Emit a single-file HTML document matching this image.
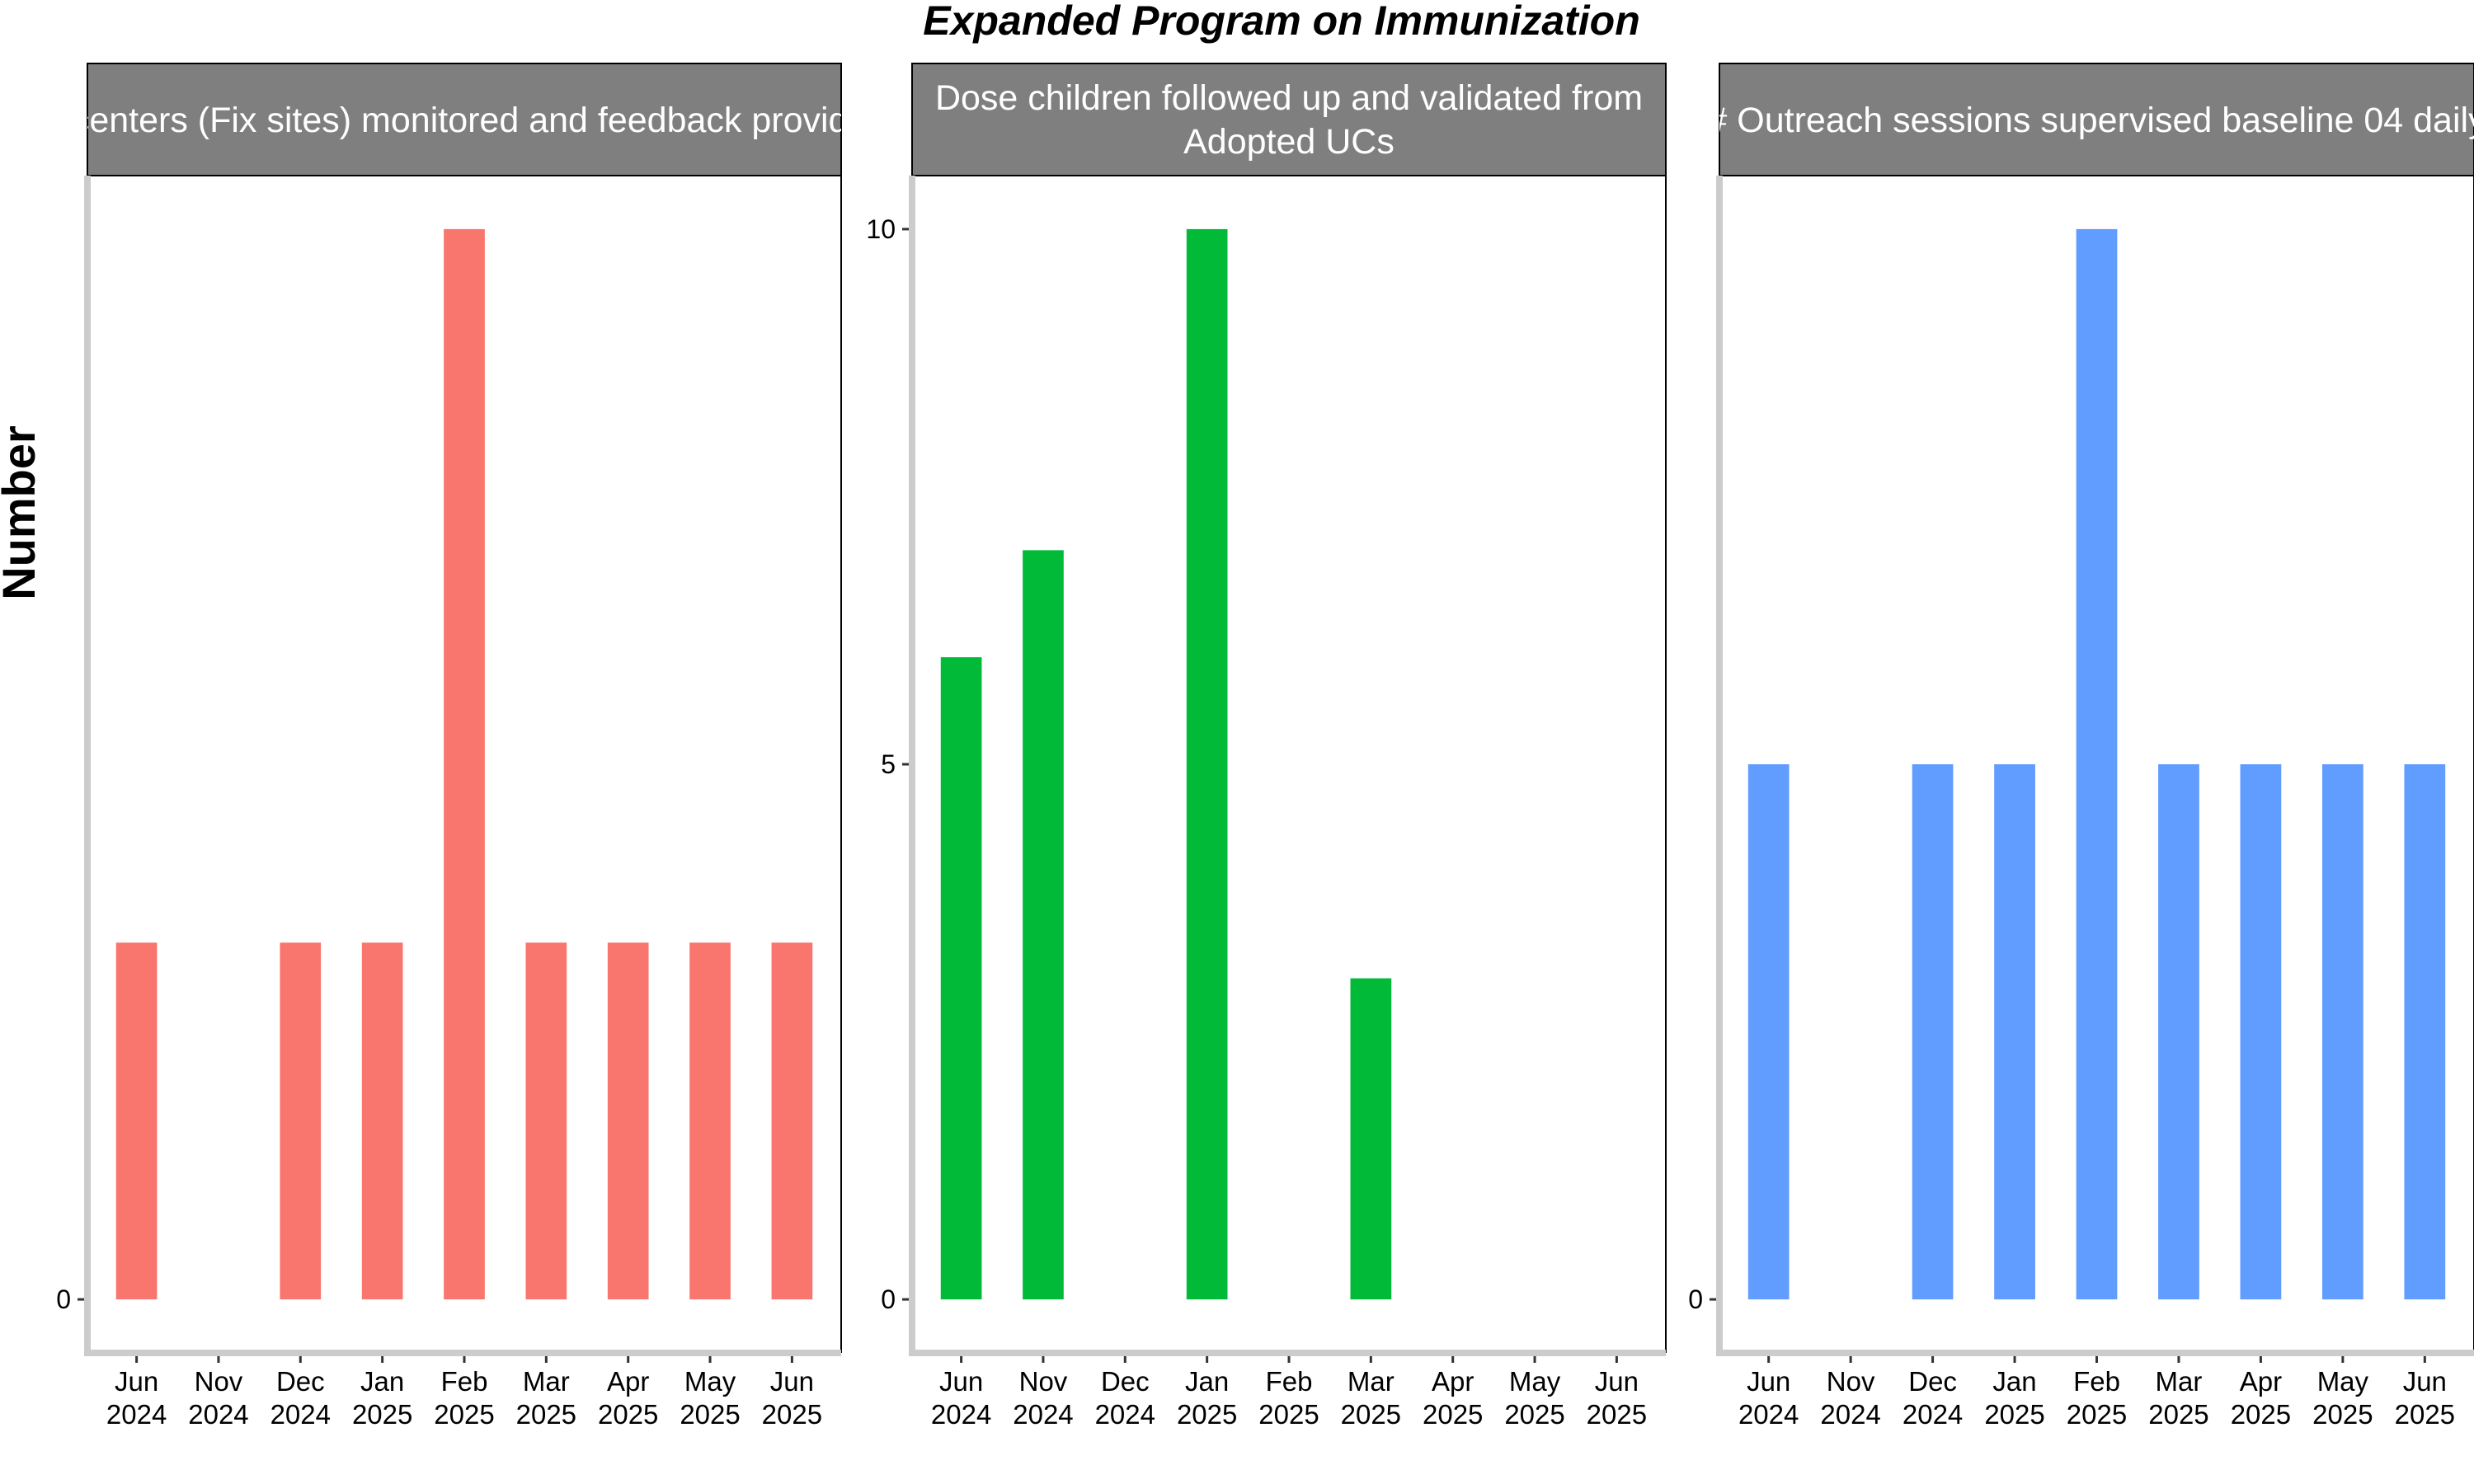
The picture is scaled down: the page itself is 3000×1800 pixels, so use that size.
<!DOCTYPE html>
<html><head><meta charset="utf-8"><title>Expanded Program on Immunization</title>
<style>
html,body{margin:0;padding:0;background:#fff;}
svg{display:block;font-family:"Liberation Sans",Arial,sans-serif;}
</style></head>
<body>
<svg id="chart" width="3000" height="1800" viewBox="0 0 3000 1800" xmlns="http://www.w3.org/2000/svg">
<text x="1554" y="42" text-anchor="middle" font-size="50" font-weight="bold" font-style="italic" fill="#000">Expanded Program on Immunization</text>
<text transform="translate(42,622) rotate(-90)" text-anchor="middle" font-size="56" font-weight="bold" fill="#000">Number</text>
<g id="panels"></g>
</svg>
<script>
const categories = ["Jun\n2024","Nov\n2024","Dec\n2024","Jan\n2025","Feb\n2025","Mar\n2025","Apr\n2025","May\n2025","Jun\n2025"];
const seriesEpiCenters = [1,0,1,1,3,1,1,1,1];
const seriesDoseChildren = [6,7,0,10,0,3,0,0,0];
const seriesOutreach = [5,0,5,5,10,5,5,5,5];
const ticksEpiCenters = [0];
const ticksDoseChildren = [0,5,10];
const ticksOutreach = [0];
const stripTitles = [
  ["# EPI centers (Fix sites) monitored and feedback provided"],
  ["Dose children followed up and validated from","Adopted UCs"],
  ["# Outreach sessions supervised baseline 04 daily"]
];

const NS = "http://www.w3.org/2000/svg";
const root = document.getElementById("panels");
const panels = [
  {left:106, right:1020, values:seriesEpiCenters, ticks:ticksEpiCenters, color:"#F8766D", name:"epi-centers", textOffset:-40},
  {left:1106, right:2020, values:seriesDoseChildren, ticks:ticksDoseChildren, color:"#00BA38", name:"dose-children", textOffset:0},
  {left:2085, right:3000, values:seriesOutreach, ticks:ticksOutreach, color:"#619CFF", name:"outreach-sessions", textOffset:0}
];
const plotTop = 213, plotBottom = 1641, stripTop = 77;

function mk(tag, attrs, parent){
  const e = document.createElementNS(NS, tag);
  for (const k in attrs) e.setAttribute(k, attrs[k]);
  parent.appendChild(e);
  return e;
}

panels.forEach((p, pi) => {
  const g = mk("g", {}, root);
  
  
  const w = p.right - p.left;
  const step = w / (categories.length - 1 + 1.2);
  const xc = i => p.left + step * 0.6 + i * step;
  const maxV = Math.max(...p.values);
  const yS = v => plotBottom - (v + 0.05 * maxV) / (1.1 * maxV) * (plotBottom - plotTop);

  // clip for strip text
  const cp = mk("clipPath", {id: "clip" + pi}, g);
  mk("rect", {x: p.left, y: stripTop, width: w, height: plotTop - stripTop}, cp);

  const strip = mk("rect", {x: p.left, y: stripTop, width: w, height: plotTop - stripTop, fill: "#7f7f7f", stroke: "#000", "stroke-width": 2}, g);
  
  
  const lines = stripTitles[pi];
  const cx = (p.left + p.right) / 2 + p.textOffset;
  lines.forEach((ln, li) => {
    const cy = lines.length === 1 ? 160 : 133 + li * 53;
    const t = mk("text", {x: cx, y: cy, "text-anchor": "middle", "font-size": 43, fill: "#fff", "clip-path": "url(#clip" + pi + ")"}, g);
    t.textContent = ln;
    
    
  });

  // panel border (black right/top)
  mk("line", {x1: p.right, y1: plotTop, x2: p.right, y2: plotBottom, stroke: "#000", "stroke-width": 2}, g);

  // bars
  p.values.forEach((v, i) => {
    if (v <= 0) return;
    const r = mk("rect", {x: xc(i) - step * 0.25, y: yS(v), width: step * 0.5, height: yS(0) - yS(v), fill: p.color}, g);
    
    
  });

  // axis lines gray
  mk("line", {x1: p.left, y1: plotTop, x2: p.left, y2: plotBottom + 4, stroke: "#cccccc", "stroke-width": 8}, g);
  mk("line", {x1: p.left - 4, y1: plotBottom, x2: p.right, y2: plotBottom, stroke: "#cccccc", "stroke-width": 8}, g);

  // y ticks
  p.ticks.forEach(tv => {
    const y = yS(tv);
    mk("line", {x1: p.left - 12, y1: y, x2: p.left - 4, y2: y, stroke: "#333", "stroke-width": 3}, g);
    const t = mk("text", {x: p.left - 20, y: y + 11, "text-anchor": "end", "font-size": 32, fill: "#000"}, g);
    t.textContent = tv;
    
    
  });

  // x ticks
  categories.forEach((c, i) => {
    const x = xc(i);
    mk("line", {x1: x, y1: plotBottom + 4, x2: x, y2: plotBottom + 12, stroke: "#333", "stroke-width": 3}, g);
    const parts = c.split("\n");
    parts.forEach((s, k) => {
      const t = mk("text", {x: x, y: 1687 + k * 40, "text-anchor": "middle", "font-size": 33, fill: "#000"}, g);
      t.textContent = s;
      
      
    });
  });
});
</script>
</body></html>
